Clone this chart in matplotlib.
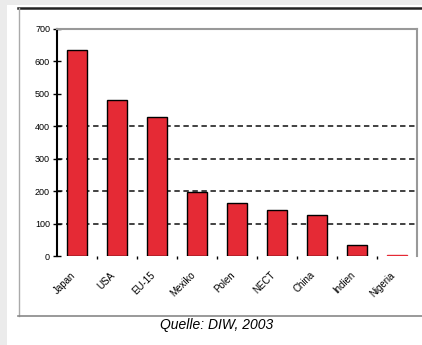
import matplotlib
matplotlib.use("Agg")
import matplotlib.pyplot as plt
from matplotlib.patches import Rectangle
from matplotlib.lines import Line2D

# data
laender = ["Japan", "USA", "EU-15", "Mexiko", "Polen", "NECT", "China", "Indien", "Nigeria"]
werte = [636, 481, 429, 196, 163, 141, 127, 34, 4]
gitter = [100, 200, 300, 400]

fig = plt.figure(figsize=(4.22, 3.45), dpi=100)
fig.patch.set_facecolor("#ebebeb")

# white page and chart frame
W, H = 422.0, 345.0
fig.patches.append(Rectangle((7 / W, 0), 1, 1 - 5 / H, transform=fig.transFigure,
                             facecolor="white", edgecolor="none", zorder=-5))
fig.lines.append(Line2D([18 / W, 1], [1 - 7.5 / H] * 2, transform=fig.transFigure,
                        color="#222222", lw=1.8, zorder=-4))
fig.lines.append(Line2D([18.5 / W] * 2, [1 - 7.5 / H, 1 - 316 / H], transform=fig.transFigure,
                        color="#aaaaaa", lw=1.0, zorder=-4))
fig.lines.append(Line2D([18 / W, 1], [1 - 316 / H] * 2, transform=fig.transFigure,
                        color="#888888", lw=1.2, zorder=-4))

ax = fig.add_axes([57 / W, 1 - 256 / H, 360 / W, 227 / H])
ax.set_zorder(2)
ax.set_facecolor("white")

x = range(len(laender))
bars = ax.bar(x, werte, width=0.5, color="#e52a35", edgecolor="black", linewidth=1.0, zorder=3)
bars[-1].set_edgecolor("#e52a35")  # tiny bar shows only as a red line

for g in gitter:
    ax.axhline(g, color="#333333", lw=1.3, ls=(0, (3, 2)), zorder=1)

ax.set_xlim(-0.5, len(laender) - 0.5)
ax.set_ylim(0, 700)
ax.set_yticks(range(0, 701, 100))
ax.set_yticklabels([str(v) for v in range(0, 701, 100)], fontsize=6.5, family="Liberation Sans")
ax.tick_params(axis="y", length=6, width=1, pad=2, direction="inout")

ax.set_xticks([i + 0.5 for i in range(len(laender) - 1)], minor=True)
ax.set_xticks(list(x))
ax.set_xticklabels(laender, rotation=45, ha="right", va="top", fontsize=7,
                   family="Liberation Sans")
ax.tick_params(axis="x", which="major", length=0, pad=10)
ax.tick_params(axis="x", which="minor", length=2.5, width=1, direction="out")

ax.spines["left"].set_color("black")
ax.spines["left"].set_linewidth(1.5)
ax.spines["bottom"].set_visible(False)
for s in ["top", "right"]:
    ax.spines[s].set_color("#999999")
    ax.spines[s].set_linewidth(1.5)

fig.text(217 / W, 1 - 325 / H, "Quelle: DIW, 2003", ha="center", va="center",
         fontsize=10, style="italic", family="Liberation Sans")

fig.savefig("out.png", dpi=100, facecolor=fig.get_facecolor())
